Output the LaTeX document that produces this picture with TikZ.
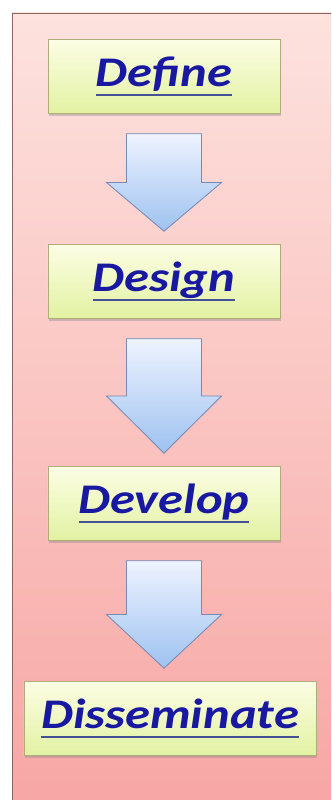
\documentclass[tikz,border=0pt]{standalone}
\usepackage{fontspec}
\setmainfont{Carlito}
\usetikzlibrary{calc, shadows}

\definecolor{pagepink}{RGB}{253, 226, 222}
\definecolor{deeppink}{RGB}{247, 166, 164}
\definecolor{framered}{RGB}{140, 100, 100}
\definecolor{stepyellow}{RGB}{252, 253, 228}
\definecolor{stepgreen}{RGB}{226, 242, 162}
\definecolor{stepborder}{RGB}{175, 172, 120}
\definecolor{arrowlight}{RGB}{238, 243, 255}
\definecolor{arrowblue}{RGB}{158, 194, 240}
\definecolor{arrowborder}{RGB}{118, 138, 178}
\definecolor{linkblue}{RGB}{24, 24, 160}
\definecolor{lineblue}{RGB}{70, 80, 150}

\tikzset{
  phase/.style={draw=stepborder, top color=stepyellow, bottom color=stepgreen,
    minimum width=5.8cm, minimum height=1.85cm, text=linkblue,
    font=\fontsize{30}{36}\selectfont\bfseries\itshape,
    drop shadow={shadow xshift=1pt, shadow yshift=-1.5pt, opacity=0.35}},
  blockarrow/.style={draw=arrowborder, line width=0.6pt, top color=arrowlight, bottom color=arrowblue}
}

% underlined link text, widened, rule at a fixed depth
\newcommand{\linktext}[1]{\setbox0\hbox{\scalebox{1.2}[1]{#1}}%
  \rlap{\color{lineblue}\rule[-0.24em]{\wd0}{0.06em}}\box0}

% block arrow from the bottom of one phase down to the next
\newcommand{\flowarrow}[2]{%
  \coordinate (#1-top) at ($(#1.south)+(0,-20)$);
  \coordinate (#2-tip) at ($(#1.south |- #2.north)+(0,13)$);
  \coordinate (#1-mid) at ($(#1-top)!0.5!(#2-tip)$);
  \draw[blockarrow] ($(#1-top)+(-37.5,0)$) -- ($(#1-top)+(37.5,0)$)
    -- ($(#1-mid)+(37.5,0)$) -- ($(#1-mid)+(57.5,0)$) -- (#2-tip)
    -- ($(#1-mid)+(-57.5,0)$) -- ($(#1-mid)+(-37.5,0)$) -- cycle;
}

\begin{document}
\begin{tikzpicture}[x=0.025cm, y=0.025cm]
  \useasboundingbox (0,0) rectangle (331,-800);
  \clip (0,0) rectangle (331,-800);
  \fill[white] (0,0) rectangle (331,-800);

  % pink panel behind the steps
  \draw[draw=framered, top color=pagepink, bottom color=deeppink] (12,-13) rectangle (345,-815);

  % the four phases
  \node[phase] (define) at (164,-76.5) {\linktext{Define}};
  \node[phase] (design) at (164,-281.5) {\linktext{Design}};
  \node[phase] (develop) at (164,-503.5) {\linktext{Develop}};
  \node[phase, minimum width=7.3cm] (disseminate) at (170,-718.5) {\linktext{Disseminate}};

  % arrows between them
  \flowarrow{define}{design}
  \flowarrow{design}{develop}
  \flowarrow{develop}{disseminate}
\end{tikzpicture}
\end{document}
